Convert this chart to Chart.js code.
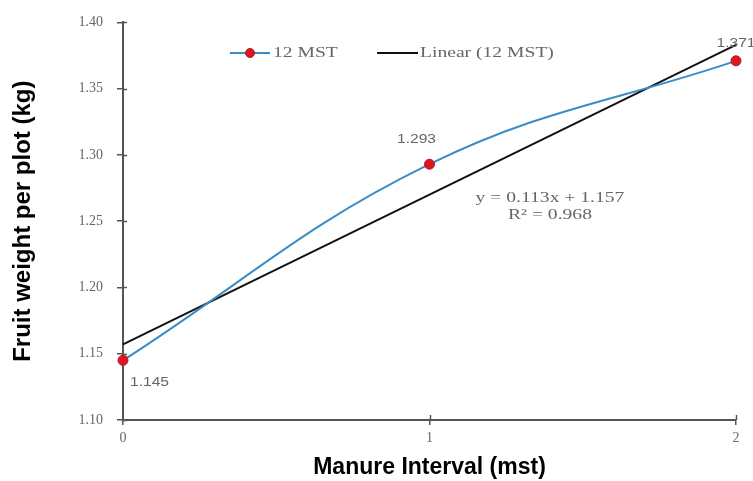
<!DOCTYPE html>
<html><head><meta charset="utf-8">
<script src="https://cdn.jsdelivr.net/npm/chart.js@4/dist/chart.umd.min.js"></script>
<style>html,body{margin:0;padding:0;background:#fff;}#wrap{width:753px;height:481px;}</style>
</head><body><div id="wrap"><canvas id="c" width="753" height="481"></canvas></div>
<script>
const xValues = [0, 1, 2];
const mstValues = [1.145, 1.293, 1.371];
const trendValues = [1.157, 1.270, 1.383];
const yTickMin = 1.10, yTickMax = 1.40, yStep = 0.05;
const seriesName = "12 MST";
const trendName = "Linear (12 MST)";
const equationLines = ["y = 0.113x + 1.157", "R² = 0.968"];
const xTitle = "Manure Interval (mst)";
const yTitle = "Fruit weight per plot (kg)";

const serif = "'Liberation Serif', 'Times New Roman', serif";
const sans = "'Liberation Sans', Arial, sans-serif";
const grayText = '#666666';
const axisColor = '#555555';

function stretchText(ctx, text, x, y, sx, align) {
  ctx.save();
  ctx.translate(x, y);
  ctx.scale(sx, 1);
  ctx.textAlign = align;
  ctx.fillText(text, 0, 0);
  ctx.restore();
}

const overlay = {
  id: 'overlay',
  afterDraw(chart) {
    const ctx = chart.ctx;
    const xs = chart.scales.x, ys = chart.scales.y;
    ctx.save();
    // inner tick halves
    ctx.strokeStyle = axisColor; ctx.lineWidth = 1.5;
    for (let v = yTickMin; v <= yTickMax + 1e-9; v += yStep) {
      const py = Math.round(ys.getPixelForValue(v)) + 0.5;
      ctx.beginPath(); ctx.moveTo(xs.left, py); ctx.lineTo(xs.left + 4, py); ctx.stroke();
    }
    xValues.forEach(v => {
      if (v === 0) return;
      const px = Math.round(xs.getPixelForValue(v)) + 0.5;
      ctx.beginPath(); ctx.moveTo(px, ys.bottom); ctx.lineTo(px, ys.bottom - 5); ctx.stroke();
    });
    // data labels
    ctx.fillStyle = grayText; ctx.font = '12px ' + sans; ctx.textBaseline = 'middle';
    const offs = [[7, 22, 'left'], [-13, -25, 'center'], [0, -17, 'center']];
    mstValues.forEach((v, i) => {
      const px = xs.getPixelForValue(xValues[i]), py = ys.getPixelForValue(v);
      stretchText(ctx, v.toFixed(3), px + offs[i][0], py + offs[i][1], 1.3, offs[i][2]);
    });
    // equation
    ctx.font = '14px ' + serif;
    stretchText(ctx, equationLines[0], 550, 198, 1.4, 'center');
    stretchText(ctx, equationLines[1], 550, 215, 1.4, 'center');
    // legend
    const ly = 53;
    ctx.strokeStyle = '#3a8cc6'; ctx.lineWidth = 2;
    ctx.beginPath(); ctx.moveTo(230, ly); ctx.lineTo(270, ly); ctx.stroke();
    ctx.fillStyle = '#e3141f'; ctx.strokeStyle = '#a02030'; ctx.lineWidth = 1;
    ctx.beginPath(); ctx.arc(250, ly, 4.5, 0, Math.PI * 2); ctx.fill(); ctx.stroke();
    ctx.strokeStyle = '#111'; ctx.lineWidth = 2;
    ctx.beginPath(); ctx.moveTo(377, ly); ctx.lineTo(418, ly); ctx.stroke();
    ctx.fillStyle = grayText; ctx.font = '14px ' + serif;
    stretchText(ctx, seriesName, 273, ly, 1.4, 'left');
    stretchText(ctx, trendName, 420, ly, 1.4, 'left');
    ctx.restore();
  }
};

new Chart(document.getElementById('c'), {
  type: 'line',
  data: {
    datasets: [
      {
        label: seriesName,
        data: xValues.map((x, i) => ({x: x, y: mstValues[i]})),
        borderColor: '#3a8cc6', borderWidth: 2, tension: 0.4,
        pointRadius: 5, pointBackgroundColor: '#e3141f', pointBorderColor: '#a02030', pointBorderWidth: 1,
        clip: false, order: 1
      },
      {
        label: trendName,
        data: xValues.map((x, i) => ({x: x, y: trendValues[i]})),
        borderColor: '#111111', borderWidth: 2, tension: 0, pointRadius: 0,
        clip: false, order: 2
      }
    ]
  },
  options: {
    responsive: false, animation: false,
    layout: { padding: { left: 0, right: 17, top: 21, bottom: 0 } },
    plugins: { legend: { display: false }, tooltip: { enabled: false } },
    scales: {
      x: {
        type: 'linear', min: 0, max: 2,
        ticks: { stepSize: 1, color: grayText, font: { family: serif, size: 14 }, padding: 5 },
        grid: { drawOnChartArea: false, drawTicks: true, tickLength: 5, color: axisColor, lineWidth: 1.5 },
        border: { display: true, color: axisColor, width: 2 },
        title: { display: true, text: xTitle, color: '#000', font: { family: sans, size: 23, weight: 'bold' }, padding: { top: 0, bottom: 0 } },
        afterFit(s) { s.height = 61; }
      },
      y: {
        min: yTickMin, max: yTickMax,
        ticks: { stepSize: yStep, color: grayText, font: { family: serif, size: 14 }, padding: 14,
          callback: v => Number(v).toFixed(2) },
        grid: { drawOnChartArea: false, drawTicks: true, tickLength: 6, color: axisColor, lineWidth: 1.5 },
        border: { display: true, color: axisColor, width: 2 },
        title: { display: true, text: yTitle, color: '#000', font: { family: sans, size: 24, weight: 'bold' }, padding: { top: 9, bottom: 0 } },
        afterFit(s) { s.width = 123; }
      }
    }
  },
  plugins: [overlay]
});
</script></body></html>
